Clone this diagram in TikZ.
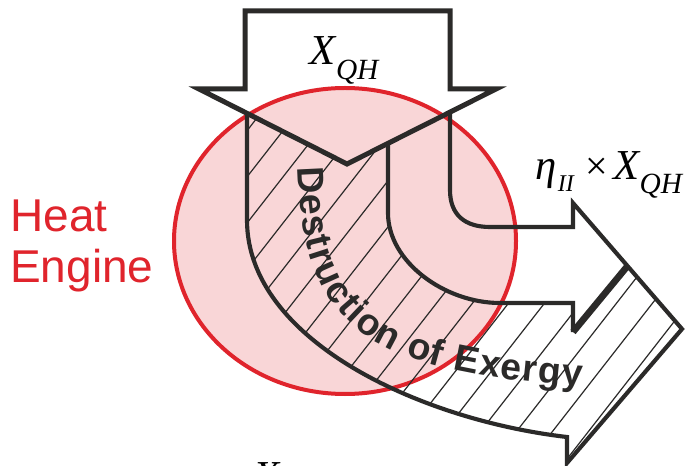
\documentclass[tikz,border=0pt]{standalone}
\usepackage{fontspec}
\setmainfont{Liberation Serif}
\newfontfamily\arialf{Liberation Sans}
\usetikzlibrary{decorations.text,calc}
\definecolor{inkc}{HTML}{2B2A29}
\definecolor{redc}{HTML}{E0242C}
\definecolor{pinkc}{HTML}{F9D6D7}
\tikzset{
  ink/.style={draw=inkc, line join=miter, miter limit=12},
  arrowline/.style={ink, line width=3.75pt},
  bandline/.style={ink, line width=3.1pt},
  sepline/.style={ink, line width=5pt},
  hatchline/.style={draw=inkc, line width=0.9pt},
  engine/.style={fill=pinkc, draw=redc, line width=3pt},
  lbl/.style={inner sep=0pt, text=black},
}
\begin{document}
\begin{tikzpicture}[x=0.75pt,y=-0.75pt]
\useasboundingbox (0,0) rectangle (695,466);
\fill[white] (0,0) rectangle (695,466);
% key points
\coordinate (sTL) at (245,11);
\coordinate (sTR) at (450,11);
\coordinate (sBR) at (450,89);
\coordinate (wR) at (496,89);
\coordinate (apex) at (347,164);
\coordinate (wL) at (199,89);
\coordinate (sBL) at (245,89);
\coordinate (hwT) at (573,203);
\coordinate (hapex) at (682,329);
\coordinate (hwB) at (567,463);
\coordinate (hsep) at (627.5,266);
\coordinate (notch) at (573,332);
% top arrow fill
\fill[white] (sTL) -- (sTR) -- (sBR) -- (wR) -- (apex) -- (wL) -- (sBL) -- cycle;
% heat engine
\draw[engine] (345,241) ellipse [x radius=171, y radius=153];
% hatching
\begin{scope}
\clip (247,113) -- (247,220) .. controls (247,340) and (420,420) .. (567,437)
  -- (hwB) -- (hapex) -- (hsep) -- (notch) -- (573,303) -- (500,303)
  .. controls (445,303) and (388,262) .. (388,213) -- (388,143) -- (apex) -- cycle;
\foreach \k in {-11,...,7} \draw[hatchline] ({355+36*\k},500) -- ++(390,-500);
\end{scope}
% band outlines
\draw[bandline] (247,113) -- (247,220) .. controls (247,340) and (420,420) .. (567,437)
  -- (hwB) -- (hapex) -- (hsep) -- (hwT) -- (573,227) -- (490,227)
  .. controls (465,227) and (450,215) .. (450,190) -- (450,112);
\draw[bandline] (388,143) -- (388,213) .. controls (388,262) and (445,303) .. (500,303)
  -- (573,303) -- (notch);
\draw[sepline] (notch) -- (hsep);
% top arrow outline
\draw[arrowline] (sTL) -- (sTR) -- (sBR) -- (wR) -- (apex) -- (wL) -- (sBL) -- cycle;
% labels
\node[lbl, anchor=base west] (xqh) at (309,65)
  {\fontsize{32}{32}\selectfont\itshape X\kern0.5pt\raisebox{-11pt}{\fontsize{22}{22}\selectfont QH}};
\node[lbl, anchor=base west] (eta) at (535,180)
  {\fontsize{32}{32}\selectfont\itshape η\kern1pt\raisebox{-9pt}{\fontsize{18}{18}\selectfont II}\kern9pt{\upshape\fontsize{30}{30}\selectfont ×}\kern4pt X\raisebox{-10pt}{\fontsize{22}{22}\selectfont QH}};
\node[lbl, anchor=base west, text=redc, font=\arialf\fontsize{34.5}{34.5}\selectfont] (heat) at (10,232) {Heat};
\node[lbl, anchor=base west, text=redc, font=\arialf\fontsize{34.5}{34.5}\selectfont] (engine) at (10,282) {Engine};
\node[lbl, anchor=base west] (xd) at (253,490) {\fontsize{32}{32}\selectfont\itshape X};
\path[decorate, decoration={text along path,
  text={|\arialf\bfseries\fontsize{28}{28}\selectfont\color{inkc}|Destruction of Exergy},
  text align={fit to path}}]
  (298,167) .. controls (302,330) and (370,372) .. (582,386);
\end{tikzpicture}
\end{document}
